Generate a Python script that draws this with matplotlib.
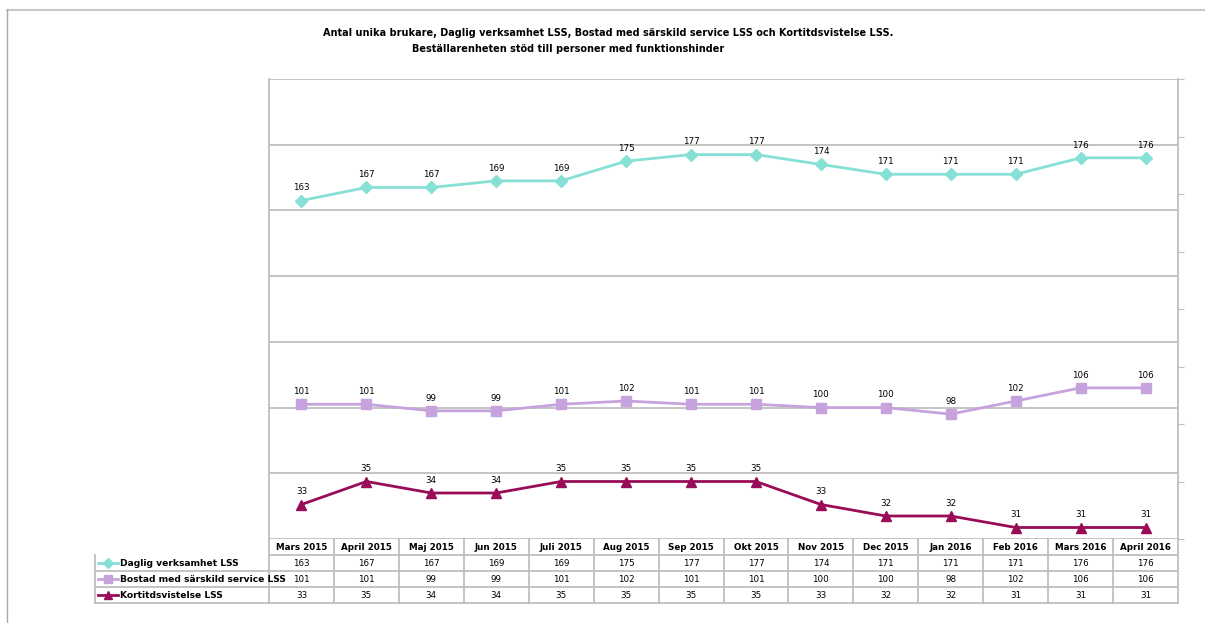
import matplotlib
matplotlib.use("Agg")
import matplotlib.pyplot as plt
from matplotlib.lines import Line2D
import numpy as np

# Månader och antal brukare
manader = ["Mars 2015", "April 2015", "Maj 2015", "Jun 2015", "Juli 2015", "Aug 2015",
           "Sep 2015", "Okt 2015", "Nov 2015", "Dec 2015", "Jan 2016", "Feb 2016",
           "Mars 2016", "April 2016"]
daglig = [163, 167, 167, 169, 169, 175, 177, 177, 174, 171, 171, 171, 176, 176]
bostad = [101, 101, 99, 99, 101, 102, 101, 101, 100, 100, 98, 102, 106, 106]
korttid = [33, 35, 34, 34, 35, 35, 35, 35, 33, 32, 32, 31, 31, 31]

namn = ["Daglig verksamhet LSS", "Bostad med särskild service LSS", "Kortitdsvistelse LSS"]
farger = ["#86E0D5", "#C6A3DC", "#990C58"]
markorer = ["D", "s", "^"]

titel1 = "Antal unika brukare, Daglig verksamhet LSS, Bostad med särskild service LSS och Kortitdsvistelse LSS."
titel2 = "Beställarenheten stöd till personer med funktionshinder"

plt.rcParams['font.family'] = ['DejaVu Sans']
W, H = 1205, 623
fig = plt.figure(figsize=(W / 100, H / 100), dpi=100)
fig.patch.set_facecolor("white")

def px(x0, y0, x1, y1):
    # pixelbox -> figurkoordinater
    return [x0 / W, 1 - y1 / H, (x1 - x0) / W, (y1 - y0) / H]

grid_c = "#BFBFBF"
x = np.arange(len(manader))

ax = fig.add_axes(px(269, 79, 1178, 539))
ax2 = ax.twinx()

ax.set_xlim(-0.5, len(manader) - 0.5)
ax.set_ylim(60, 200)
ax.set_yticks(np.arange(60, 201, 20))
ax.yaxis.grid(True, color=grid_c, lw=1.3)
ax.set_axisbelow(True)
ax.set_xticks([])
ax.tick_params(left=False, labelleft=False, right=False, labelright=False,
               bottom=False, labelbottom=False)
for s in ["top", "bottom", "right"]:
    ax.spines[s].set_visible(False)
ax.spines["left"].set_color(grid_c)
ax.spines["left"].set_linewidth(1.3)

ax2.set_ylim(30, 70)
ax2.set_yticks(np.arange(30, 71, 5))
ax2.tick_params(left=False, labelleft=False, right=True, labelright=False,
                length=4, color=grid_c, direction="out")
for s in ["top", "bottom", "left"]:
    ax2.spines[s].set_visible(False)
ax2.spines["right"].set_color(grid_c)
ax2.spines["right"].set_linewidth(1.3)

for a, serie, f, m in [(ax, daglig, farger[0], markorer[0]),
                       (ax, bostad, farger[1], markorer[1]),
                       (ax2, korttid, farger[2], markorer[2])]:
    a.plot(x, serie, color=f, lw=2, marker=m, ms=7 if m != "D" else 6, zorder=3)
    for xi, v in zip(x, serie):
        a.annotate(str(v), (xi, v), xytext=(0, 6), textcoords="offset points",
                   ha="center", va="bottom", fontsize=6.3)

# datatabell under diagrammet
tab = fig.add_axes(px(95, 539, 1178, 603))
kol = (269 - 95) / (909 / len(manader))
tab.set_xlim(-0.5 - kol, len(manader) - 0.5)
tab.set_ylim(4, 0)
tab.axis("off")
lk = dict(color=grid_c, lw=1.3, clip_on=False)
tab.plot([-0.5, len(manader) - 0.5], [1, 1], **lk)
for r in [2, 3, 4]:
    tab.plot([-0.5 - kol, len(manader) - 0.5], [r, r], **lk)
tab.plot([-0.5 - kol, -0.5 - kol], [1, 4], **lk)
for i in range(len(manader) + 1):
    tab.plot([i - 0.5, i - 0.5], [0, 4], **lk)
for i, m in enumerate(manader):
    tab.text(i, 0.5, m, ha="center", va="center", fontsize=6.3, fontweight="bold")
for r, serie in enumerate([daglig, bostad, korttid]):
    for i, v in enumerate(serie):
        tab.text(i, r + 1.5, str(v), ha="center", va="center", fontsize=6.3)
    x0 = -0.5 - kol + 0.05
    tab.plot([x0, x0 + 0.3], [r + 1.5, r + 1.5], color=farger[r], lw=2, clip_on=False)
    tab.plot([x0 + 0.15], [r + 1.5], marker=markorer[r], color=farger[r],
             ms=6 if markorer[r] != "D" else 5, clip_on=False)
    tab.text(x0 + 0.33, r + 1.5, namn[r], ha="left", va="center", fontsize=6.6,
             fontweight="bold")

fig.text(608 / W, 1 - 33 / H, titel1, ha="center", va="center", fontsize=7, fontweight="bold")
fig.text(568 / W, 1 - 49 / H, titel2, ha="center", va="center", fontsize=7, fontweight="bold")

# ram kring diagrammet
fig.add_artist(Line2D([7 / W, 1], [1 - 10 / H, 1 - 10 / H], color="#C8C8C8", lw=1.5))
fig.add_artist(Line2D([7 / W, 7 / W], [0, 1 - 10 / H], color="#A8A8A8", lw=1.0))

fig.savefig("out.png", dpi=100)
